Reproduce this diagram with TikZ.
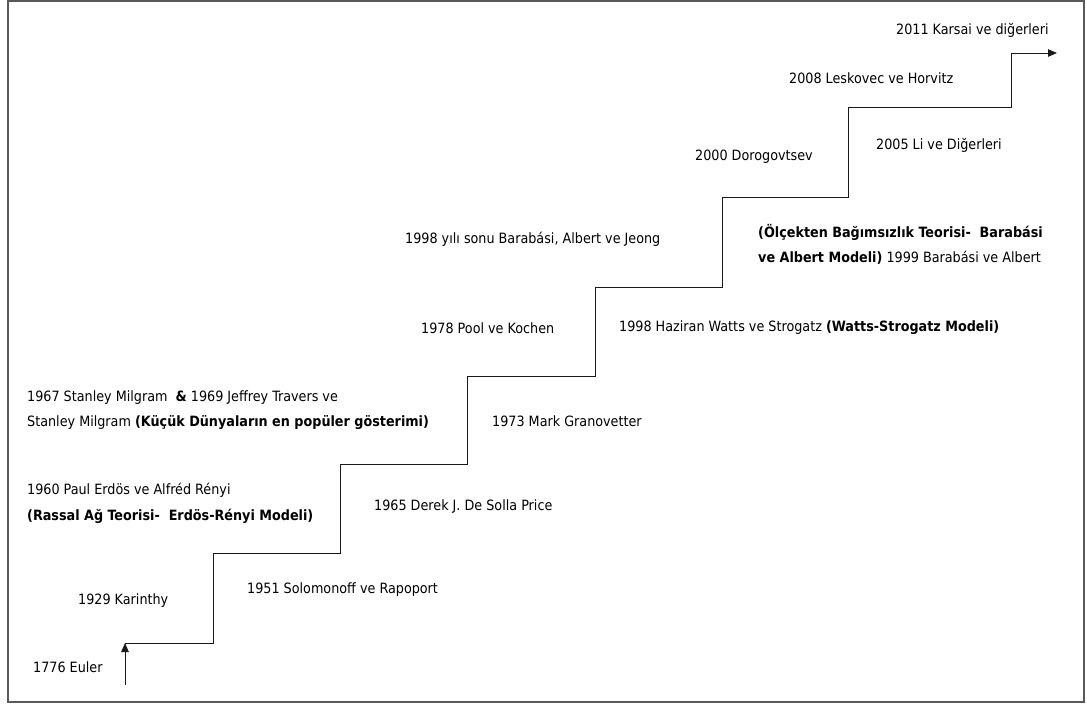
\documentclass[tikz,border=0pt]{standalone}
\usepackage{fontspec}
\setmainfont{DejaVu Sans Condensed}
\usetikzlibrary{arrows.meta}

\begin{document}
\begin{tikzpicture}[x=1pt,y=-1pt,
  lbl/.style={anchor=west, inner sep=0pt, align=left,
    font=\fontsize{14.2}{25.5}\selectfont},
  stair/.style={line width=1pt, draw=black!90,
    -{Triangle[length=9pt,width=7.5pt]}},
  frame/.style={line width=1.8pt, draw=black!65}]

% page frame
\useasboundingbox (0,0) rectangle (1087,704);
\draw[frame] (8,1) rectangle (1084,702);

% corners of the staircase
\coordinate (s0) at (125,685);
\coordinate (s1) at (125,643);
\coordinate (s2) at (213,643);
\coordinate (s3) at (213,553);
\coordinate (s4) at (340,553);
\coordinate (s5) at (340,464);
\coordinate (s6) at (467,464);
\coordinate (s7) at (467,376);
\coordinate (s8) at (595,376);
\coordinate (s9) at (595,287);
\coordinate (s10) at (722,287);
\coordinate (s11) at (722,197);
\coordinate (s12) at (848,197);
\coordinate (s13) at (848,107);
\coordinate (s14) at (1011,107);
\coordinate (s15) at (1011,53);
\coordinate (s16) at (1057,53);

% first arrow and the rising staircase
\draw[stair] (s0) -- (s1);
\draw[stair] (s1) -- (s2) -- (s3) -- (s4) -- (s5) -- (s6) -- (s7) -- (s8)
  -- (s9) -- (s10) -- (s11) -- (s12) -- (s13) -- (s14) -- (s15) -- (s16);

% milestones
\node[lbl] (euler) at (33,667) {1776 Euler};
\node[lbl] (karinthy) at (78,601) {1929 Karinthy};
\node[lbl] (solomonoff) at (247,590) {1951 Solomonoff ve Rapoport};
\node[lbl] (erdos) at (27,503.5) {1960 Paul Erdös ve Alfréd Rényi\\
  \textbf{(Rassal Ağ Teorisi-\ \ Erdös-Rényi Modeli)}};
\node[lbl] (price) at (374,507) {1965 Derek J. De Solla Price};
\node[lbl] (milgram) at (27,410) {1967 Stanley Milgram\ \ \textbf{\&} 1969 Jeffrey Travers ve\\
  Stanley Milgram \textbf{(Küçük Dünyaların en popüler gösterimi)}};
\node[lbl] (granovetter) at (492,421) {1973 Mark Granovetter};
\node[lbl] (pool) at (421,328) {1978 Pool ve Kochen};
\node[lbl] (watts) at (619,328) {1998 Haziran Watts ve Strogatz \textbf{(Watts-Strogatz Modeli)}};
\node[lbl] (jeong) at (405,239) {1998 yılı sonu Barabási, Albert ve Jeong};
\node[lbl] (barabasi) at (758,244.5) {\textbf{(Ölçekten Bağımsızlık Teorisi-\ \ Barabási}\\
  \textbf{ve Albert Modeli)} 1999 Barabási ve Albert};
\node[lbl] (dorogovtsev) at (695,157) {2000 Dorogovtsev};
\node[lbl] (li) at (876,145) {2005 Li ve Diğerleri};
\node[lbl] (leskovec) at (789,78) {2008 Leskovec ve Horvitz};
\node[lbl] (karsai) at (896,30) {2011 Karsai ve diğerleri};
\end{tikzpicture}
\end{document}
